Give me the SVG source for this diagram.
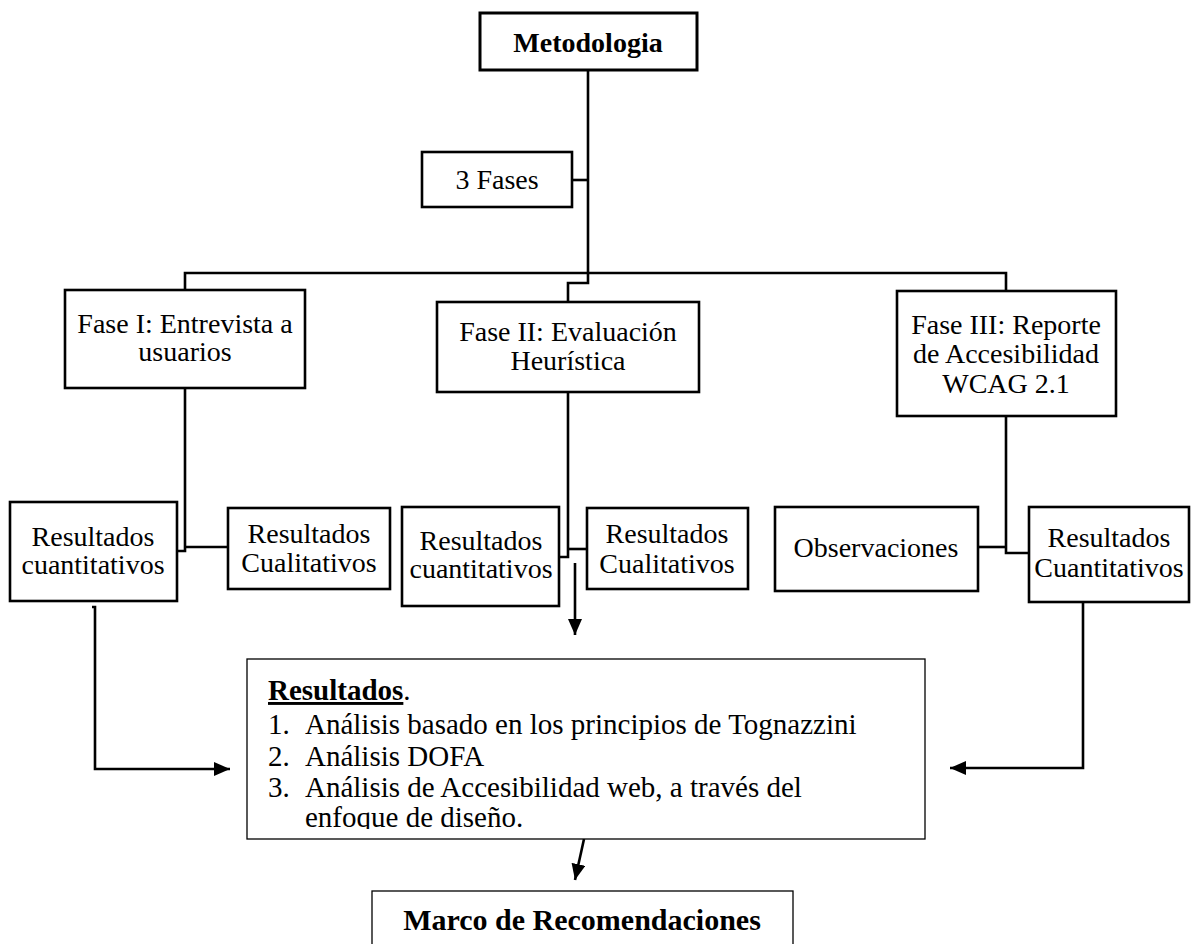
<svg xmlns="http://www.w3.org/2000/svg" width="1191" height="944" viewBox="0 0 1191 944">
<style>
  .box { fill: #fff; stroke: #000; stroke-width: 2.6; }
  .thin { fill: #fff; stroke: #000; stroke-width: 1.3; }
  .t { font-family: "Liberation Serif", "Times New Roman", serif; font-size: 28px; fill: #000; text-anchor: middle; }
  .b { font-weight: bold; }
  .list { font-family: "Liberation Serif", "Times New Roman", serif; font-size: 29px; fill: #000; }
  .conn { fill: none; stroke: #000; stroke-width: 2.6; }
</style>
<defs>
  <marker id="arr" markerUnits="userSpaceOnUse" markerWidth="16" markerHeight="14" refX="16" refY="7" orient="auto">
    <path d="M0,0 L16,7 L0,14 z" fill="#000"/>
  </marker>
  <clipPath id="resClip"><rect x="247" y="659" width="678" height="170"/></clipPath>
</defs>

<g id="connectors">
  <path class="conn" d="M588,70 V283 H568 V302"/>
  <path class="conn" d="M572,180 H588"/>
  <path class="conn" d="M185,290 V273 H1006 V291"/>
  <path class="conn" d="M185,388 V551 H177"/>
  <path class="conn" d="M185,547 H228"/>
  <path class="conn" d="M568,392 V557 H559"/>
  <path class="conn" d="M568,549 H587"/>
  <path class="conn" d="M1006,416 V553 H1029"/>
  <path class="conn" d="M978,547 H1006"/>
  <path class="conn" d="M575,563 V635" marker-end="url(#arr)"/>
  <path class="conn" d="M92,607 H95 V769 H230" marker-end="url(#arr)"/>
  <path class="conn" d="M1083,602 V768 H950" marker-end="url(#arr)"/>
  <path class="conn" d="M584,839 L575,880" marker-end="url(#arr)"/>
</g>

<g id="metodologia">
  <rect class="box" x="480" y="13" width="217" height="57" style="stroke-width:3"/>
  <text class="t b" x="588" y="52">Metodologia</text>
</g>

<g id="tres-fases">
  <rect class="box" x="422" y="152" width="150" height="55"/>
  <text class="t" x="497" y="189">3 Fases</text>
</g>

<g id="fase1">
  <rect class="box" x="65" y="290" width="240" height="98"/>
  <text class="t" x="185" y="333">Fase I: Entrevista a</text>
  <text class="t" x="185" y="361">usuarios</text>
</g>

<g id="fase2">
  <rect class="box" x="437" y="302" width="262" height="90"/>
  <text class="t" x="568" y="341">Fase II: Evaluación</text>
  <text class="t" x="568" y="370">Heurística</text>
</g>

<g id="fase3">
  <rect class="box" x="897" y="291" width="219" height="125"/>
  <text class="t" x="1006" y="334">Fase III: Reporte</text>
  <text class="t" x="1006" y="363">de Accesibilidad</text>
  <text class="t" x="1006" y="393">WCAG 2.1</text>
</g>

<g id="f1-cuantitativos">
  <rect class="box" x="10" y="502" width="167" height="99"/>
  <text class="t" x="93" y="546">Resultados</text>
  <text class="t" x="93" y="574">cuantitativos</text>
</g>

<g id="f1-cualitativos">
  <rect class="box" x="228" y="508" width="162" height="81"/>
  <text class="t" x="309" y="543">Resultados</text>
  <text class="t" x="309" y="572">Cualitativos</text>
</g>

<g id="f2-cuantitativos">
  <rect class="box" x="402" y="507" width="157" height="99"/>
  <text class="t" x="481" y="550">Resultados</text>
  <text class="t" x="481" y="578">cuantitativos</text>
</g>

<g id="f2-cualitativos">
  <rect class="box" x="587" y="508" width="161" height="81"/>
  <text class="t" x="667" y="543">Resultados</text>
  <text class="t" x="667" y="573">Cualitativos</text>
</g>

<g id="f3-observaciones">
  <rect class="box" x="775" y="507" width="203" height="84"/>
  <text class="t" x="876" y="557">Observaciones</text>
</g>

<g id="f3-cuantitativos">
  <rect class="box" x="1029" y="507" width="160" height="95"/>
  <text class="t" x="1109" y="547">Resultados</text>
  <text class="t" x="1109" y="577">Cuantitativos</text>
</g>

<g id="resultados">
  <rect class="thin" x="247" y="659" width="678" height="180"/>
  <g clip-path="url(#resClip)">
    <text class="list" x="268" y="700"><tspan font-weight="bold" text-decoration="underline">Resultados</tspan>.</text>
    <text class="list" x="268" y="734">1.</text>
    <text class="list" x="305" y="734">Análisis basado en los principios de Tognazzini</text>
    <text class="list" x="268" y="766">2.</text>
    <text class="list" x="305" y="766">Análisis DOFA</text>
    <text class="list" x="268" y="797">3.</text>
    <text class="list" x="305" y="797">Análisis de Accesibilidad web, a través del</text>
    <text class="list" x="305" y="827">enfoque de diseño.</text>
  </g>
</g>

<g id="marco">
  <rect class="thin" x="372" y="891" width="421" height="60"/>
  <text class="t b" x="582" y="930" style="font-size:30px">Marco de Recomendaciones</text>
</g>
</svg>
